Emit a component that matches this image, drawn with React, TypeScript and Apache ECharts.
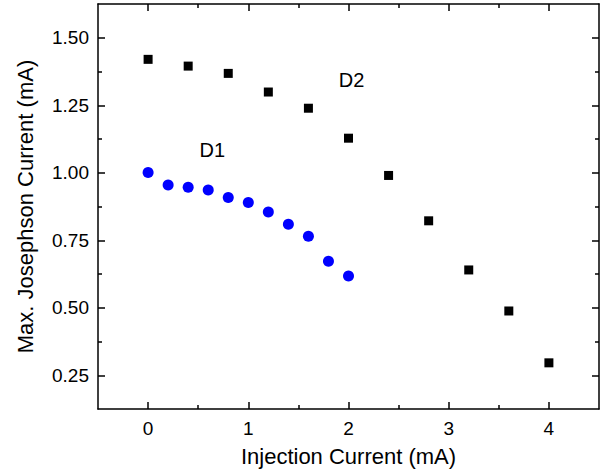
import React, { useEffect, useRef } from "react";
import * as echarts from "echarts";

const X_D1 = [0, 0.2, 0.4, 0.6, 0.8, 1.0, 1.2, 1.4, 1.6, 1.8, 2.0];
const Y_D1 = [1.001, 0.955, 0.946, 0.936, 0.908, 0.89, 0.855, 0.809, 0.765, 0.672, 0.618];
const X_D2 = [0, 0.4, 0.8, 1.2, 1.6, 2.0, 2.4, 2.8, 3.2, 3.6, 4.0];
const Y_D2 = [1.42, 1.395, 1.368, 1.299, 1.239, 1.128, 0.99, 0.822, 0.64, 0.488, 0.296];
const X_MAJOR = [0, 1, 2, 3, 4];
const X_MINOR = [0.5, 1.5, 2.5, 3.5];
const Y_MAJOR = [0.25, 0.5, 0.75, 1.0, 1.25, 1.5];
const Y_MINOR = [0.375, 0.625, 0.875, 1.125, 1.375];
const ANNOTATIONS: [number, number, string][] = [
  [0.64, 1.084, "D1"],
  [2.03, 1.344, "D2"],
];

const FONT = "'Liberation Sans', Arial, sans-serif";
const FS = 19;
const TITLE_FS = 22;

export default function App() {
  const ref = useRef<HTMLDivElement>(null);
  useEffect(() => {
    if (!ref.current) return;
    const chart = echarts.init(ref.current, null, { renderer: "svg" });
    const line = { show: true, onZero: false, lineStyle: { color: "#000", width: 1.5 } };
    const noLine = { show: false, onZero: false };
    const tick = (vals: number[], len: number) => ({
      show: true,
      inside: true,
      length: len,
      customValues: vals,
      lineStyle: { color: "#000", width: 1.5 },
    });
    const xBase = { type: "value", min: -0.5, max: 4.5, splitLine: { show: false } };
    const yBase = { type: "value", min: 0.125, max: 1.625, splitLine: { show: false } };
    chart.setOption({
      animation: false,
      grid: { left: 98, right: 14, top: 4, bottom: 63 },
      xAxis: [
        {
          ...xBase,
          position: "bottom",
          axisLine: line,
          axisTick: tick(X_MAJOR, 7),
          axisLabel: { customValues: X_MAJOR, color: "#000", fontSize: FS, fontFamily: FONT, margin: 10 },
          name: "Injection Current (mA)",
          nameLocation: "middle",
          nameGap: 36,
          nameTextStyle: { color: "#000", fontSize: TITLE_FS, fontFamily: FONT },
        },
        { ...xBase, position: "bottom", axisLine: noLine, axisTick: tick(X_MINOR, 4), axisLabel: { show: false } },
        { ...xBase, position: "top", axisLine: line, axisTick: tick(X_MAJOR, 7), axisLabel: { show: false } },
        { ...xBase, position: "top", axisLine: noLine, axisTick: tick(X_MINOR, 4), axisLabel: { show: false } },
      ],
      yAxis: [
        {
          ...yBase,
          position: "left",
          axisLine: line,
          axisTick: tick(Y_MAJOR, 7),
          axisLabel: {
            customValues: Y_MAJOR,
            color: "#000",
            fontSize: FS,
            fontFamily: FONT,
            margin: 9,
            formatter: (v: number) => v.toFixed(2),
          },
          name: "Max. Josephson Current (mA)",
          nameLocation: "middle",
          nameGap: 62,
          nameTextStyle: { color: "#000", fontSize: TITLE_FS, fontFamily: FONT },
        },
        { ...yBase, position: "left", axisLine: noLine, axisTick: tick(Y_MINOR, 4), axisLabel: { show: false } },
        { ...yBase, position: "right", axisLine: line, axisTick: tick(Y_MAJOR, 7), axisLabel: { show: false } },
        { ...yBase, position: "right", axisLine: noLine, axisTick: tick(Y_MINOR, 4), axisLabel: { show: false } },
      ],
      series: [
        {
          type: "scatter",
          name: "D2",
          symbol: "rect",
          symbolSize: 9,
          itemStyle: { color: "#000", opacity: 1 },
          data: X_D2.map((x, i) => [x, Y_D2[i]]),
        },
        {
          type: "scatter",
          name: "D1",
          symbol: "circle",
          symbolSize: 11,
          itemStyle: { color: "#0000ff", opacity: 1 },
          data: X_D1.map((x, i) => [x, Y_D1[i]]),
        },
        {
          type: "scatter",
          symbol: "circle",
          symbolSize: 1,
          silent: true,
          itemStyle: { color: "#fff", opacity: 1 },
          label: {
            show: true,
            position: "inside",
            formatter: (p: any) => p.data[2],
            color: "#000",
            textBorderWidth: 0,
            opacity: 1,
            fontSize: 20,
            fontFamily: FONT,
          },
          data: ANNOTATIONS,
        },
      ],
    });
    return () => chart.dispose();
  }, []);
  return <div ref={ref} style={{ position: "fixed", left: 0, top: 0, width: 613, height: 472, background: "#fff" }} />;
}
